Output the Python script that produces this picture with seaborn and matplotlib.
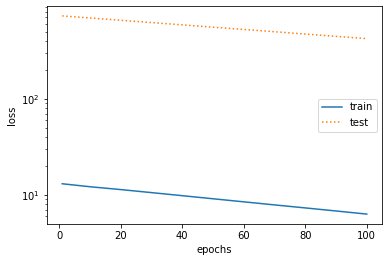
import matplotlib
matplotlib.use("Agg")
import matplotlib.pyplot as plt
import seaborn as sns
import pandas as pd

epochs = [1, 10, 20, 30, 40, 50, 60, 70, 80, 90, 100]
train_loss = [13.1, 12.2, 11.4, 10.6, 9.85, 9.15, 8.5, 7.9, 7.35, 6.83, 6.34]
test_loss = [727, 692, 655, 620, 587, 555, 526, 498, 471, 446, 422]

plt.rcParams['font.family'] = ['DejaVu Sans']
plt.rcParams['font.size'] = 10

fig, ax = plt.subplots(figsize=(388 / 72, 262 / 72), dpi=72)
df_train = pd.DataFrame({"epochs": epochs, "loss": train_loss})
df_test = pd.DataFrame({"epochs": epochs, "loss": test_loss})
sns.lineplot(data=df_train, x="epochs", y="loss", ax=ax, label="train",
             color="#1f77b4", linewidth=1.5)
sns.lineplot(data=df_test, x="epochs", y="loss", ax=ax, label="test",
             color="#ff7f0e", linestyle=":", linewidth=1.5)
ax.set_yscale("log")
ax.set_xlabel("epochs")
ax.set_ylabel("loss")
ax.legend(loc="center right")
fig.subplots_adjust(left=47 / 388, right=382 / 388, top=1 - 6 / 262, bottom=1 - 224 / 262)
fig.savefig("out.png", dpi=72)
